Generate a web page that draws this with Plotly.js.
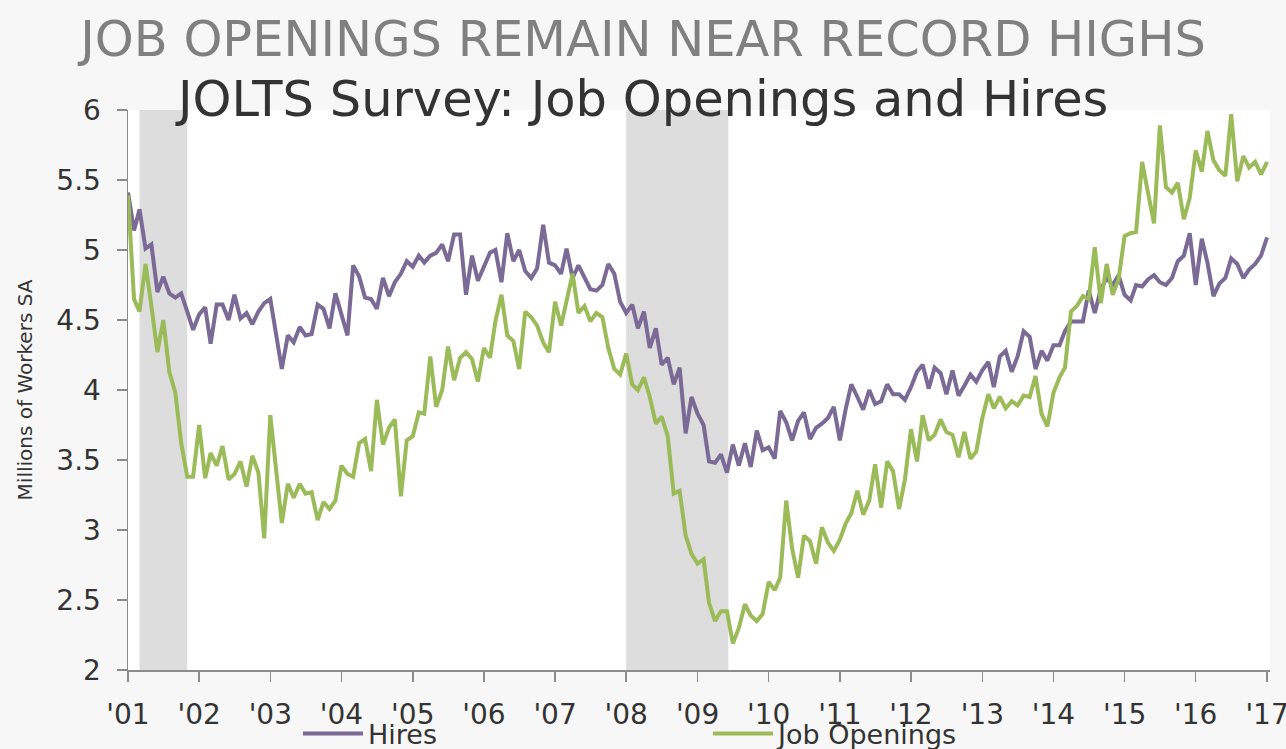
<!DOCTYPE html>
<html>
<head>
<meta charset="utf-8">
<script src="https://cdn.plot.ly/plotly-3.0.1.min.js"></script>
<style>
  html, body { margin: 0; padding: 0; background: #f7f7f7; }
  #chart { width: 1286px; height: 749px; }
</style>
</head>
<body>
<div id="chart"></div>
<script>
// Monthly series, Jan 2001 through Jan 2017 (millions of workers, SA)
const startYear = 2001;
const hires = [
  5.41, 5.14, 5.29, 5.01, 5.04, 4.70, 4.81, 4.69, 4.66, 4.69, 4.56, 4.43,
  4.54, 4.59, 4.33, 4.61, 4.61, 4.50, 4.68, 4.51, 4.55, 4.47, 4.56, 4.62,
  4.65, 4.40, 4.15, 4.39, 4.34, 4.45, 4.39, 4.40, 4.61, 4.58, 4.44, 4.69,
  4.55, 4.39, 4.89, 4.81, 4.66, 4.65, 4.58, 4.80, 4.67, 4.77, 4.83, 4.92,
  4.88, 4.96, 4.91, 4.96, 4.98, 5.04, 4.92, 5.11, 5.11, 4.68, 4.96, 4.78,
  4.88, 4.98, 5.00, 4.77, 5.12, 4.92, 5.00, 4.85, 4.80, 4.87, 5.18, 4.91,
  4.89, 4.83, 5.01, 4.80, 4.89, 4.81, 4.72, 4.71, 4.75, 4.90, 4.83, 4.63,
  4.55, 4.61, 4.44, 4.56, 4.30, 4.44, 4.18, 4.23, 4.04, 4.16, 3.69, 3.95,
  3.83, 3.75, 3.49, 3.48, 3.54, 3.41, 3.61, 3.46, 3.62, 3.45, 3.71, 3.57,
  3.59, 3.51, 3.85, 3.77, 3.64, 3.78, 3.84, 3.65, 3.73, 3.76, 3.80, 3.88,
  3.64, 3.87, 4.04, 3.95, 3.86, 4.00, 3.90, 3.92, 4.04, 3.97, 3.97, 3.93,
  4.02, 4.13, 4.18, 4.01, 4.16, 4.12, 3.97, 4.14, 3.96, 4.03, 4.11, 4.06,
  4.14, 4.20, 4.02, 4.24, 4.28, 4.13, 4.24, 4.42, 4.38, 4.15, 4.28, 4.21,
  4.32, 4.32, 4.42, 4.49, 4.49, 4.49, 4.71, 4.55, 4.72, 4.80, 4.75, 4.82,
  4.68, 4.64, 4.75, 4.74, 4.79, 4.82, 4.77, 4.75, 4.80, 4.92, 4.96, 5.12,
  4.75, 5.08, 4.91, 4.67, 4.76, 4.80, 4.94, 4.90, 4.80, 4.86, 4.90, 4.96,
  5.09
];
const jobOpenings = [
  5.39, 4.65, 4.56, 4.90, 4.60, 4.27, 4.50, 4.13, 3.98, 3.62, 3.38, 3.38,
  3.75, 3.37, 3.55, 3.46, 3.60, 3.36, 3.40, 3.49, 3.31, 3.53, 3.41, 2.94,
  3.82, 3.40, 3.05, 3.33, 3.23, 3.33, 3.26, 3.27, 3.07, 3.20, 3.15, 3.21,
  3.46, 3.40, 3.38, 3.62, 3.65, 3.42, 3.93, 3.61, 3.73, 3.79, 3.24, 3.64,
  3.67, 3.84, 3.83, 4.24, 3.88, 4.00, 4.31, 4.07, 4.23, 4.27, 4.22, 4.06,
  4.30, 4.23, 4.49, 4.68, 4.39, 4.35, 4.15, 4.56, 4.52, 4.46, 4.34, 4.27,
  4.63, 4.46, 4.64, 4.83, 4.55, 4.60, 4.49, 4.55, 4.52, 4.30, 4.15, 4.11,
  4.26, 4.04, 4.00, 4.09, 3.95, 3.76, 3.81, 3.67, 3.26, 3.28, 2.96, 2.83,
  2.76, 2.79, 2.48, 2.35, 2.42, 2.42, 2.19, 2.30, 2.47, 2.39, 2.35, 2.40,
  2.63, 2.57, 2.66, 3.21, 2.87, 2.66, 2.96, 2.92, 2.76, 3.02, 2.91, 2.85,
  2.93, 3.05, 3.12, 3.28, 3.11, 3.21, 3.47, 3.16, 3.49, 3.42, 3.15, 3.36,
  3.72, 3.49, 3.82, 3.64, 3.68, 3.79, 3.70, 3.68, 3.52, 3.70, 3.51, 3.56,
  3.80, 3.97, 3.87, 3.95, 3.87, 3.92, 3.89, 3.96, 3.95, 4.10, 3.83, 3.74,
  3.98, 4.09, 4.16, 4.56, 4.60, 4.67, 4.65, 5.02, 4.62, 4.90, 4.68, 4.79,
  5.10, 5.12, 5.13, 5.63, 5.41, 5.19, 5.89, 5.45, 5.41, 5.48, 5.22, 5.37,
  5.71, 5.56, 5.85, 5.64, 5.57, 5.53, 5.97, 5.49, 5.67, 5.59, 5.63, 5.54,
  5.63
];
const tickYears = [2001, 2002, 2003, 2004, 2005, 2006, 2007, 2008, 2009, 2010, 2011, 2012, 2013, 2014, 2015, 2016, 2017];
const tickLabels = ["'01", "'02", "'03", "'04", "'05", "'06", "'07", "'08", "'09", "'10", "'11", "'12", "'13", "'14", "'15", "'16", "'17"];
const recessions = [["2001-03-01", "2001-11-01"], ["2008-01-01", "2009-06-08"]];

function monthDates(n) {
  const out = [];
  for (let i = 0; i < n; i++) {
    const y = startYear + Math.floor(i / 12);
    const m = (i % 12) + 1;
    out.push(y + '-' + (m < 10 ? '0' + m : m) + '-01');
  }
  return out;
}
const dates = monthDates(hires.length);

const FONT = 'DejaVu Sans, Verdana, sans-serif';

const traces = [
  { x: dates, y: hires, type: 'scatter', mode: 'lines', name: 'Hires',
    line: { color: '#7b6996', width: 4 } },
  { x: dates, y: jobOpenings, type: 'scatter', mode: 'lines', name: 'Job Openings',
    line: { color: '#9bbb59', width: 4 } }
];

const shapes = recessions.map(r => ({
  type: 'rect', xref: 'x', yref: 'paper', x0: r[0], x1: r[1], y0: 0, y1: 1,
  fillcolor: '#dddddd', line: { width: 0 }, layer: 'below'
}));

const layout = {
  width: 1286, height: 749,
  paper_bgcolor: '#f7f7f7', plot_bgcolor: '#ffffff',
  margin: { l: 128, r: 16, t: 110, b: 79, autoexpand: false },
  font: { family: FONT, color: '#333333' },
  title: {
    text: 'JOB OPENINGS REMAIN NEAR RECORD HIGHS',
    font: { family: FONT, size: 49.5, color: '#808080' },
    x: 0.5, xanchor: 'center', xref: 'container',
    y: 0.948, yanchor: 'middle', yref: 'container'
  },
  annotations: [{
    text: 'JOLTS Survey: Job Openings and Hires',
    xref: 'paper', yref: 'paper', x: 0.45, y: 1.020,
    xanchor: 'center', yanchor: 'middle', showarrow: false,
    font: { family: FONT, size: 49.5, color: '#333333' }
  }],
  xaxis: {
    type: 'date', range: ['2001-01-01', '2017-01-16'],
    tickvals: tickYears.map(y => y + '-01-01'), ticktext: tickLabels,
    showgrid: false, zeroline: false, automargin: false,
    showline: true, linecolor: '#8c8c8c', linewidth: 1.5,
    ticks: 'outside', ticklen: 10, tickcolor: '#8c8c8c', tickwidth: 1.5,
    tickfont: { family: FONT, size: 28, color: '#333333' },
    ticklabelstandoff: 9, ticklabeloverflow: 'allow'
  },
  yaxis: {
    range: [2, 6], dtick: 0.5, tick0: 2,
    showgrid: false, zeroline: false, automargin: false,
    showline: true, linecolor: '#8c8c8c', linewidth: 1.5,
    ticks: 'outside', ticklen: 10, tickcolor: '#8c8c8c', tickwidth: 1.5,
    tickfont: { family: FONT, size: 28, color: '#333333' },
    ticklabelstandoff: 10,
    title: { text: 'Millions of Workers SA', font: { family: FONT, size: 20, color: '#333333' }, standoff: 18 }
  },
  shapes: shapes,
  showlegend: true,
  legend: {
    orientation: 'h', xref: 'container', x: 0.2317, xanchor: 'left',
    yref: 'container', y: 0.02, yanchor: 'middle',
    font: { family: FONT, size: 27, color: '#333333' },
    bgcolor: 'rgba(0,0,0,0)', itemwidth: 60,
    entrywidth: 335, entrywidthmode: 'pixels', traceorder: 'normal'
  }
};

Plotly.newPlot('chart', traces, layout, { displayModeBar: false, staticPlot: true });
</script>
</body>
</html>
